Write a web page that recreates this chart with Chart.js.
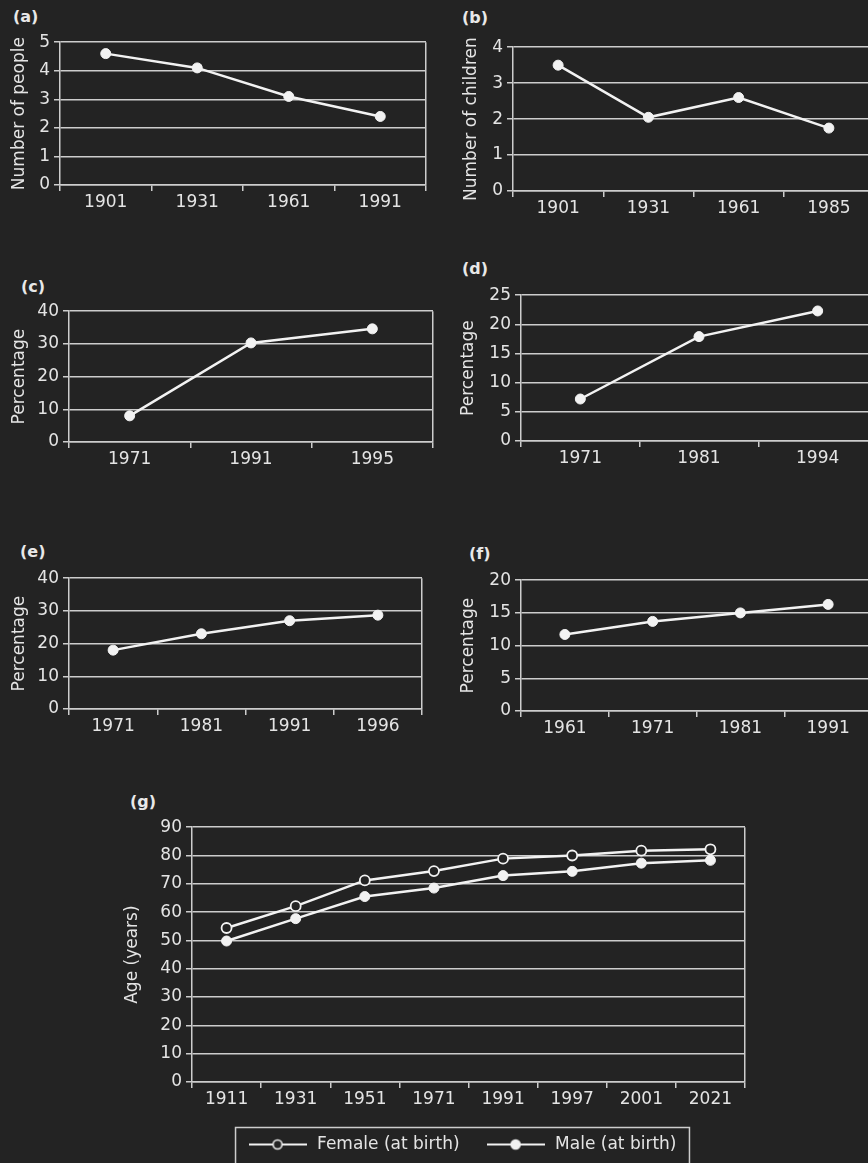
<!DOCTYPE html>
<html>
<head>
<meta charset="utf-8">
<script src="https://cdn.jsdelivr.net/npm/chart.js@4.4.1/dist/chart.umd.min.js"></script>
<style>
  html, body { margin: 0; padding: 0; background: #232323; width: 868px; height: 1163px; overflow: hidden; }
  .tag { position: absolute; font: bold 16px "DejaVu Sans", sans-serif; color: #e8e8e8; line-height: 1; white-space: nowrap; }
</style>
</head>
<body>
<div class="tag" style="left:13px;top:9px">(a)</div>
<div class="tag" style="left:462px;top:10px">(b)</div>
<div class="tag" style="left:21px;top:279px">(c)</div>
<div class="tag" style="left:462px;top:261px">(d)</div>
<div class="tag" style="left:20px;top:544px">(e)</div>
<div class="tag" style="left:469px;top:546px">(f)</div>
<div class="tag" style="left:130px;top:794px">(g)</div>
<script>
// (a) average household size
const householdYears = ['1901', '1931', '1961', '1991'];
const householdSize = [4.6, 4.1, 3.1, 2.4];
const householdAxis = [0, 5, 1];

// (b) children per family
const familyYears = ['1901', '1931', '1961', '1985'];
const childrenPerFamily = [3.5, 2.05, 2.6, 1.75];
const familyAxis = [0, 4, 1];

// (c)
const seriesCYears = ['1971', '1991', '1995'];
const seriesCValues = [8, 30.3, 34.6];
const seriesCAxis = [0, 40, 10];

// (d)
const seriesDYears = ['1971', '1981', '1994'];
const seriesDValues = [7.2, 17.9, 22.3];
const seriesDAxis = [0, 25, 5];

// (e)
const seriesEYears = ['1971', '1981', '1991', '1996'];
const seriesEValues = [18, 23, 27, 28.7];
const seriesEAxis = [0, 40, 10];

// (f)
const seriesFYears = ['1961', '1971', '1981', '1991'];
const seriesFValues = [11.7, 13.7, 15, 16.3];
const seriesFAxis = [0, 20, 5];

// (g) life expectancy at birth
const lifeYears = ['1911', '1931', '1951', '1971', '1991', '1997', '2001', '2021'];
const femaleLife = [54.4, 62.1, 71.2, 74.5, 78.9, 80.0, 81.7, 82.2];
const maleLife = [49.8, 57.7, 65.5, 68.5, 72.9, 74.4, 77.3, 78.3];
const lifeAxis = [0, 90, 10];
const lifeSeriesNames = ['Female (at birth)', 'Male (at birth)'];

const BG = '#232323';
const INK = '#e4e4e4';
const GRID = '#cdcdcd';
const LINE = '#f2f2f2';
const FAMILY = 'DejaVu Sans';

// small line-with-marker glyph used as the legend symbol
function legendGlyph(hollow) {
  const c = document.createElement('canvas');
  c.width = 58; c.height = 14;
  const g = c.getContext('2d');
  g.strokeStyle = LINE;
  g.lineWidth = 2;
  g.beginPath(); g.moveTo(0, 7); g.lineTo(58, 7); g.stroke();
  g.beginPath(); g.arc(29, 7, 4.5, 0, Math.PI * 2);
  g.fillStyle = hollow ? BG : LINE;
  g.fill();
  g.lineWidth = 1.6;
  g.stroke();
  return c;
}

// frame around the legend items
const legendFrame = {
  id: 'legendFrame',
  afterDraw(chart) {
    const lg = chart.legend;
    if (!lg || !lg.options.display || !lg.legendHitBoxes || !lg.legendHitBoxes.length) return;
    const hb = lg.legendHitBoxes;
    const last = hb[hb.length - 1];
    const x1 = hb[0].left - 11;
    const x2 = last.left + last.width + 13;
    const cy = hb[0].top + hb[0].height / 2;
    const ctx = chart.ctx;
    ctx.save();
    ctx.strokeStyle = GRID;
    ctx.lineWidth = 1.5;
    ctx.strokeRect(x1, cy - 17, x2 - x1, 60);
    ctx.restore();
  }
};

// moves the legend row sideways after layout
const legendNudge = {
  id: 'legendNudge',
  afterLayout(chart, args, opts) {
    const lg = chart.legend;
    if (lg && lg.options.display && opts && opts.dx) {
      lg.left += opts.dx;
      lg.right += opts.dx;
    }
  }
};

function buildPanel(o) {
  const padTop = 14;
  const padRight = o.padRight ?? 10;
  const xH = o.xH ?? 30;
  const legendH = o.legendH ?? 0;
  const yW = o.left - o.x0;
  const w = o.right - o.x0 + padRight;
  const h = padTop + (o.bottom - o.top) + xH + legendH;
  const canvas = document.createElement('canvas');
  canvas.width = w; canvas.height = h;
  canvas.style.cssText = `position:absolute;left:${o.x0}px;top:${o.top - padTop}px;width:${w}px;height:${h}px`;
  document.body.appendChild(canvas);

  new Chart(canvas, {
    type: 'line',
    data: {
      labels: o.labels,
      datasets: o.series.map(s => ({
        label: s.label || '',
        data: s.data,
        borderColor: LINE,
        borderWidth: 2.5,
        tension: 0,
        fill: false,
        pointRadius: 5,
        pointBackgroundColor: s.hollow ? BG : LINE,
        pointBorderColor: LINE,
        pointBorderWidth: s.hollow ? 1.8 : 1
      }))
    },
    options: {
      responsive: false,
      animation: false,
      devicePixelRatio: 1,
      layout: { padding: { top: padTop, right: padRight, left: 0, bottom: 0 } },
      plugins: {
        legend: o.legend || { display: false },
        tooltip: { enabled: false },
        legendNudge: { dx: o.legendDx || 0 }
      },
      scales: {
        x: {
          type: 'category',
          offset: true,
          grid: {
            offset: true,
            drawOnChartArea: true,
            // only the closing right-hand edge is drawn across the plot
            color: c => (c.index === undefined ? GRID : 'rgba(0,0,0,0)'),
            tickColor: GRID,
            tickLength: 6,
            lineWidth: 1.5
          },
          border: { display: true, color: GRID, width: 1.5 },
          ticks: { color: INK, font: { family: FAMILY, size: 17 }, padding: 1, maxRotation: 0, autoSkip: false },
          afterFit: s => { s.height = xH; }
        },
        y: {
          min: o.axis[0],
          max: o.axis[1],
          ticks: { stepSize: o.axis[2], color: INK, font: { family: FAMILY, size: 17 }, padding: 4 },
          grid: { color: GRID, lineWidth: 1.5, tickLength: 6, tickColor: GRID },
          border: { display: true, color: GRID, width: 1.5 },
          title: {
            display: true,
            text: o.yTitle,
            color: INK,
            font: { family: FAMILY, size: 17 },
            padding: { top: o.titlePad, bottom: 0 }
          },
          afterFit: s => { s.width = yW; }
        }
      }
    },
    plugins: o.legend ? [legendNudge, legendFrame] : []
  });
}

buildPanel({ x0: 0, left: 60, right: 426, top: 42, bottom: 185, titlePad: 9,
  labels: householdYears, axis: householdAxis, yTitle: 'Number of people',
  series: [{ data: householdSize }] });

buildPanel({ x0: 434, left: 513, right: 874, top: 47, bottom: 191, titlePad: 27,
  labels: familyYears, axis: familyAxis, yTitle: 'Number of children',
  series: [{ data: childrenPerFamily }] });

buildPanel({ x0: 0, left: 69, right: 433, top: 311, bottom: 442, titlePad: 9,
  labels: seriesCYears, axis: seriesCAxis, yTitle: 'Percentage',
  series: [{ data: seriesCValues }] });

buildPanel({ x0: 434, left: 521, right: 877, top: 295, bottom: 441, titlePad: 24,
  labels: seriesDYears, axis: seriesDAxis, yTitle: 'Percentage',
  series: [{ data: seriesDValues }] });

buildPanel({ x0: 0, left: 69, right: 422, top: 578, bottom: 709, titlePad: 9,
  labels: seriesEYears, axis: seriesEAxis, yTitle: 'Percentage',
  series: [{ data: seriesEValues }] });

buildPanel({ x0: 434, left: 521, right: 872, top: 580, bottom: 711, titlePad: 24,
  labels: seriesFYears, axis: seriesFAxis, yTitle: 'Percentage',
  series: [{ data: seriesFValues }] });

buildPanel({ x0: 100, left: 192, right: 745, top: 827, bottom: 1082, titlePad: 22,
  padRight: 20, xH: 29, legendH: 52, legendDx: -7,
  labels: lifeYears, axis: lifeAxis, yTitle: 'Age (years)',
  series: [
    { label: lifeSeriesNames[0], data: femaleLife, hollow: true },
    { label: lifeSeriesNames[1], data: maleLife }
  ],
  legend: {
    display: true,
    position: 'bottom',
    fullSize: false,
    align: 'center',
    labels: {
      usePointStyle: true,
      pointStyleWidth: 62,
      padding: 25,
      color: INK,
      font: { family: FAMILY, size: 17 },
      generateLabels: chart => chart.data.datasets.map((ds, i) => ({
        text: ds.label,
        pointStyle: legendGlyph(i === 0),
        fillStyle: LINE,
        strokeStyle: LINE,
        lineWidth: 0,
        hidden: false,
        datasetIndex: i,
        fontColor: INK
      }))
    }
  }
});
</script>
</body>
</html>
